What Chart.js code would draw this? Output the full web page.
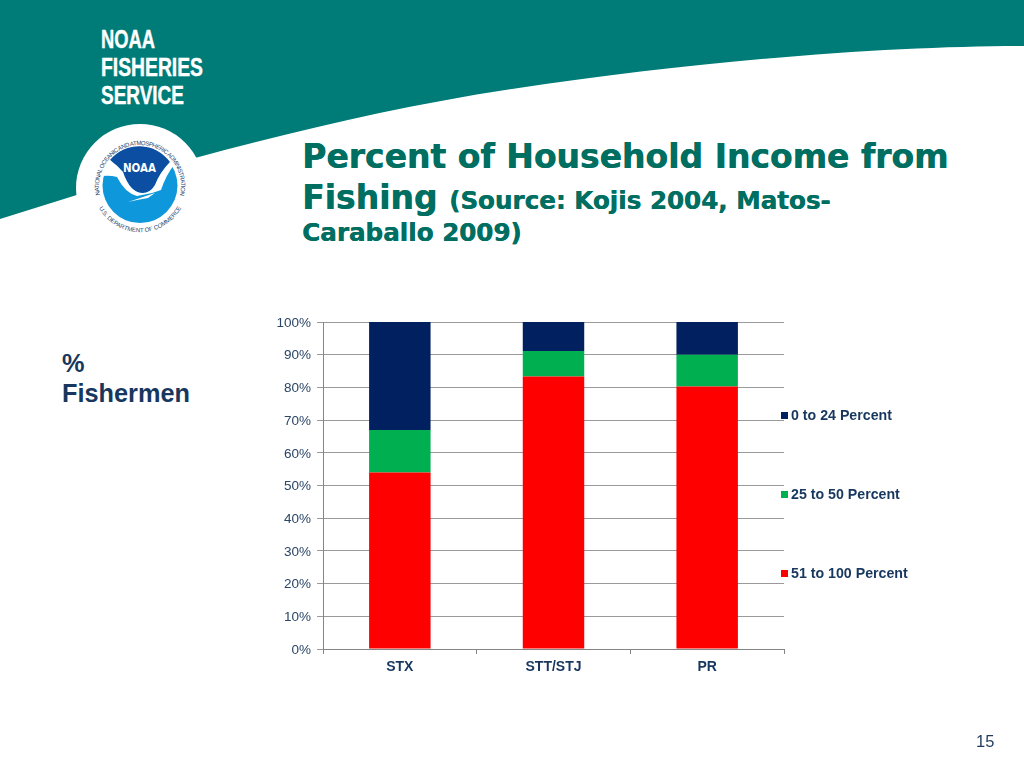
<!DOCTYPE html>
<html>
<head>
<meta charset="utf-8">
<title>Percent of Household Income from Fishing</title>
<script src="https://cdn.jsdelivr.net/npm/chart.js@4"></script>
<style>
html, body { margin: 0; padding: 0; background: #fff; }
#slide { position: relative; width: 1024px; height: 768px; overflow: hidden; font-family: "Liberation Sans", Arial, sans-serif; }
#slide svg, #chart { position: absolute; left: 0; top: 0; }
.title { position: absolute; left: 302px; white-space: nowrap; color: #006f62; font-family: "DejaVu Sans", Verdana, sans-serif; font-weight: bold; text-shadow: 0.5px 0 0 #006f62; }
.title small { font-size: 24.6px; }
#ylabel { position: absolute; left: 62px; top: 349px; font-size: 25.3px; line-height: 29.5px; font-weight: bold; color: #17375e; }
#page { position: absolute; left: 976px; top: 732px; font-size: 16.5px; color: #1f3b5c; }
.leg { position: absolute; left: 781px; white-space: nowrap; font-size: 14.2px; font-weight: bold; color: #17375e; line-height: 16px; }
.leg i { display: inline-block; width: 7px; height: 7px; margin-right: 3px; vertical-align: 1px; }
</style>
</head>
<body>
<div id="slide">
  <svg width="1024" height="768" viewBox="0 0 1024 768">
    <path d="M0 0H1024V46C900 46 720 58 512 89C400 106 300 130 195 158L0 219Z" fill="#007c78"/>
    <g fill="#fff" stroke="#fff" stroke-width="0.4" font-family="Liberation Sans, Arial, sans-serif" font-weight="bold" font-size="25">
      <text x="101" y="48" textLength="54" lengthAdjust="spacingAndGlyphs">NOAA</text>
      <text x="101" y="76" textLength="102" lengthAdjust="spacingAndGlyphs">FISHERIES</text>
      <text x="101" y="104" textLength="83" lengthAdjust="spacingAndGlyphs">SERVICE</text>
    </g>
    <circle cx="140" cy="188" r="64" fill="#fff"/>
    <circle cx="140" cy="185.5" r="37.5" fill="#0e97da"/>
    <path d="M110 160A38 38 0 0 1 170 162Q160 172 155 185Q150 193 143 193Q130 193 123 172Q118 166 110 160Z" fill="#0b4ea2"/>
    <path d="M110 160Q118 166 123 172Q130 193 143 193Q150 193 155 185Q160 172 170 162L174 165Q166 175 161 190L152 193L137 196Q125 193 117 177Q110 175 102 176L103 172Z" fill="#fff"/>
    <path d="M128 202L155 193L148 198L137 200Z" fill="#fff"/>
    <text x="123" y="172" textLength="33" lengthAdjust="spacingAndGlyphs" fill="#fff" font-family="DejaVu Sans, sans-serif" font-weight="bold" font-size="12">NOAA</text>
    <defs>
      <path id="ringTop" d="M100 195A41 41 0 1 1 180 195"/>
      <path id="ringBottom" d="M99 208A46.8 46.8 0 0 0 181 208"/>
    </defs>
    <g font-family="Liberation Sans, Arial, sans-serif" font-size="6" fill="#1d3f6e">
      <text><textPath href="#ringTop" textLength="147">NATIONAL OCEANIC AND ATMOSPHERIC ADMINISTRATION</textPath></text>
      <text><textPath href="#ringBottom" textLength="100">U.S. DEPARTMENT OF COMMERCE</textPath></text>
    </g>
  </svg>
  <div class="title" style="top:136px;font-size:33px;line-height:42px;">Percent of Household Income from</div>
  <div class="title" style="top:177px;font-size:33px;line-height:42px;">Fishing <small>(Source: Kojis 2004, Matos-</small></div>
  <div class="title" style="top:217px;font-size:24.6px;line-height:32px;">Caraballo 2009)</div>
  <div id="ylabel">%<br>Fishermen</div>
  <canvas id="chart" width="1024" height="768"></canvas>
  <div id="legend"></div>
  <div id="page">15</div>
</div>
<script>
var categories = ['STX', 'STT/STJ', 'PR'];
var lowShare = [33, 8.9, 10];      // 0 to 24 Percent
var midShare = [13, 7.8, 9.7];     // 25 to 50 Percent
var highShare = [54, 83.3, 80.3];  // 51 to 100 Percent
var seriesNames = ['0 to 24 Percent', '25 to 50 Percent', '51 to 100 Percent'];
var seriesColors = ['#002060', '#00b050', '#ff0000'];
var legendTops = [407, 486, 565];

var textColor = '#17375e';
var gridColor = '#9a9a9a';
var axisColor = '#858585';

new Chart(document.getElementById('chart'), {
    type: 'bar',
    data: {
        labels: categories,
        // red goes first so that it sits at the bottom of the stack
        datasets: [
            { label: seriesNames[2], data: highShare, backgroundColor: seriesColors[2] },
            { label: seriesNames[1], data: midShare, backgroundColor: seriesColors[1] },
            { label: seriesNames[0], data: lowShare, backgroundColor: seriesColors[0] }
        ]
    },
    options: {
        responsive: false,
        animation: false,
        barPercentage: 1,
        categoryPercentage: 0.4,
        layout: { padding: { left: 0, top: 322, right: 240, bottom: 79 } },
        plugins: { legend: { display: false }, title: { display: false }, tooltip: { enabled: false } },
        scales: {
            x: {
                stacked: true,
                afterFit: function (scale) { scale.height = 40; },
                grid: { drawOnChartArea: false, drawTicks: true, tickLength: 5, color: axisColor },
                border: { color: axisColor },
                ticks: { color: textColor, padding: 5, maxRotation: 0, font: { family: 'Liberation Sans', size: 14, weight: 'bold' } }
            },
            y: {
                stacked: true,
                min: 0,
                max: 100,
                afterFit: function (scale) { scale.width = 323; },
                grid: { color: gridColor, tickLength: 6 },
                border: { color: axisColor },
                ticks: {
                    stepSize: 10,
                    color: '#2a4566',
                    padding: 6,
                    labelOffset: 1,
                    font: { family: 'Liberation Sans', size: 13.5 },
                    callback: function (v) { return v + '%'; }
                }
            }
        }
    }
});

// legend sits beside the plot, spread out like in the slide
var legendBox = document.getElementById('legend');
seriesNames.forEach(function (name, i) {
    var row = document.createElement('div');
    row.className = 'leg';
    row.style.top = legendTops[i] + 'px';
    row.innerHTML = '<i style="background:' + seriesColors[i] + '"></i>' + name;
    legendBox.appendChild(row);
});
</script>
</body>
</html>
